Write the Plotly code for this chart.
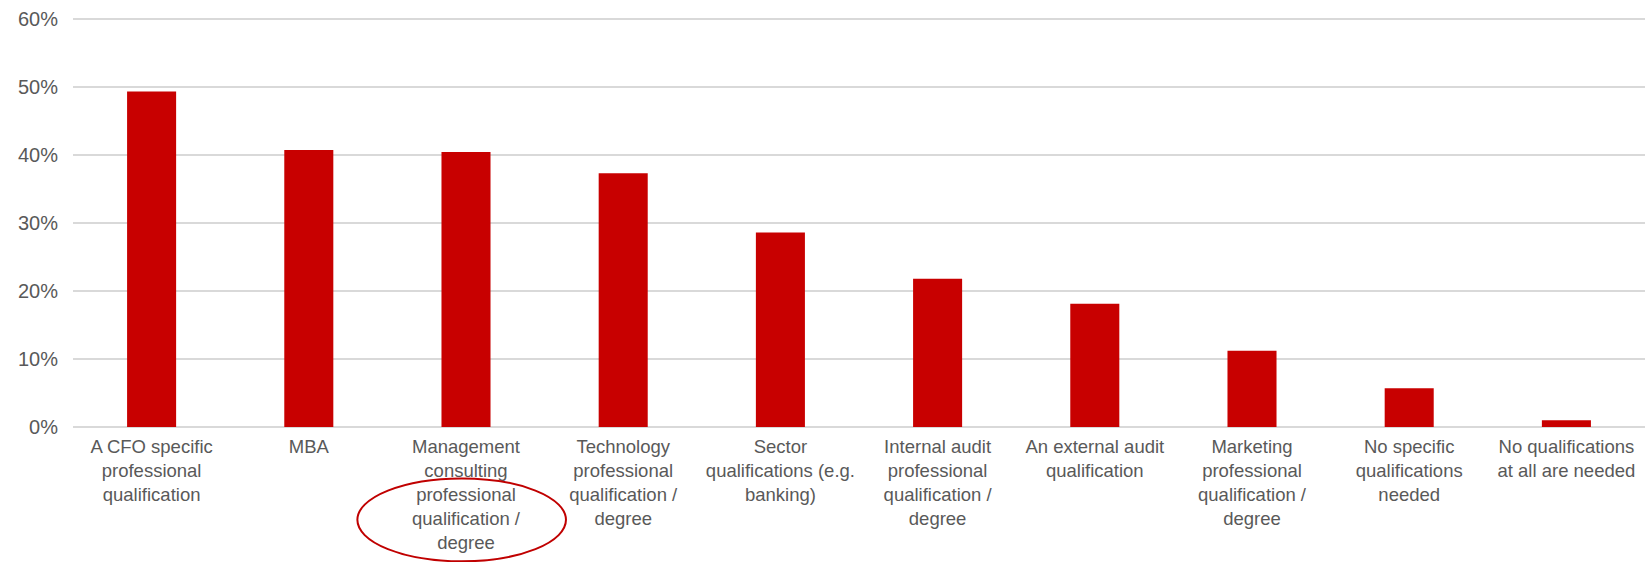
import plotly.graph_objects as go

# Qualification categories (line breaks as shown under each bar)
categories = [
    "A CFO specific<br>professional<br>qualification",
    "MBA",
    "Management<br>consulting<br>professional<br>qualification /<br>degree",
    "Technology<br>professional<br>qualification /<br>degree",
    "Sector<br>qualifications (e.g.<br>banking)",
    "Internal audit<br>professional<br>qualification /<br>degree",
    "An external audit<br>qualification",
    "Marketing<br>professional<br>qualification /<br>degree",
    "No specific<br>qualifications<br>needed",
    "No qualifications<br>at all are needed",
]

# Share of respondents per qualification
shares = [0.493, 0.407, 0.404, 0.373, 0.286, 0.218, 0.181, 0.112, 0.057, 0.010]

# Y axis ticks
y_ticks = [0, 0.1, 0.2, 0.3, 0.4, 0.5, 0.6]

BAR_RED = "#C80000"
TEXT_GREY = "#595959"
GRID_GREY = "#D9D9D9"
FONT = "Liberation Sans, Arial, sans-serif"

fig = go.Figure(
    go.Bar(
        x=categories,
        y=shares,
        marker=dict(color=BAR_RED, line=dict(width=0)),
        hoverinfo="skip",
    )
)

fig.update_layout(
    width=1652,
    height=562,
    margin=dict(l=73, r=7, t=17, b=135),
    paper_bgcolor="white",
    plot_bgcolor="white",
    bargap=0.688,
    showlegend=False,
    font=dict(family=FONT, color=TEXT_GREY),
)

fig.update_xaxes(
    type="category",
    showgrid=False,
    showline=False,
    zeroline=False,
    ticks="",
    tickangle=0,
    tickfont=dict(family=FONT, size=18.5, color=TEXT_GREY),
    ticklabelstandoff=6,
)

# Range padded a hair above 60% so the top gridline is drawn
fig.update_yaxes(
    range=[0, 0.6025],
    tickvals=y_ticks,
    tickformat=".0%",
    showgrid=True,
    gridcolor=GRID_GREY,
    gridwidth=2,
    zeroline=True,
    zerolinecolor=GRID_GREY,
    zerolinewidth=2,
    showline=False,
    ticks="",
    tickfont=dict(family=FONT, size=20, color=TEXT_GREY),
    ticklabelstandoff=14,
)

# Highlight ring around the "Management consulting" label
fig.add_shape(
    type="circle",
    xref="paper",
    yref="paper",
    x0=0.1809,
    x1=0.3136,
    y0=-0.3276,
    y1=-0.1254,
    line=dict(color="#C00000", width=2),
    fillcolor="rgba(0,0,0,0)",
    layer="above",
)

fig.write_html("out.html")
